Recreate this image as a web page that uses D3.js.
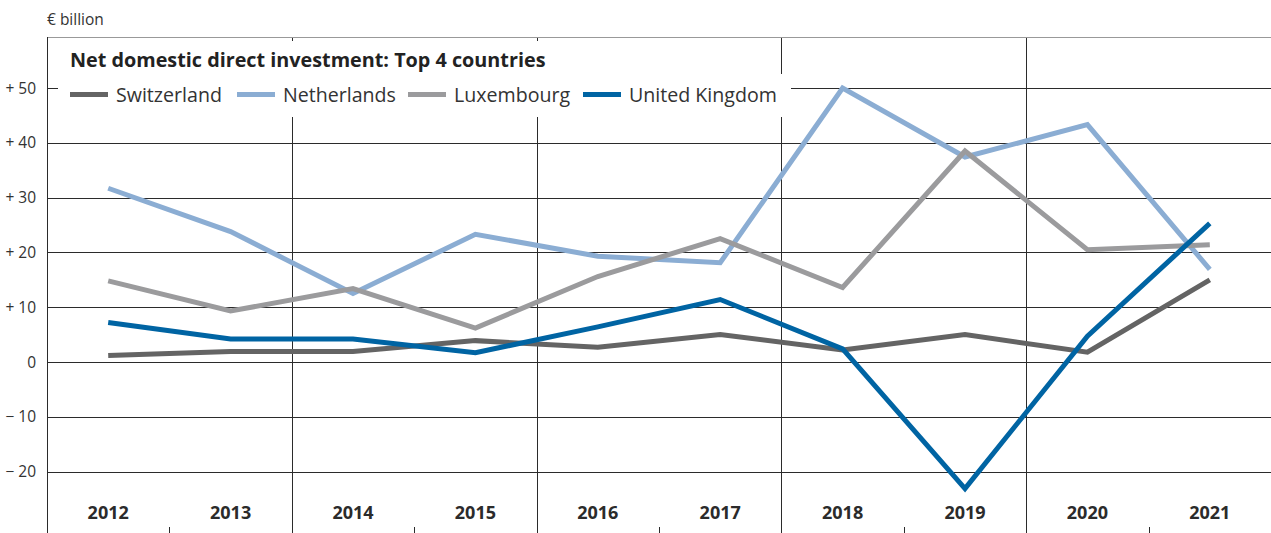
<!DOCTYPE html>
<html>
<head>
<meta charset="utf-8">
<script src="https://cdn.jsdelivr.net/npm/d3@7"></script>
<style>
  body { margin: 0; background: #fff; }
  svg { display: block; font-family: "Open Sans", sans-serif; }
</style>
</head>
<body>
<div id="chart"></div>
<script>
// values in € billion
var years = ["2012", "2013", "2014", "2015", "2016", "2017", "2018", "2019", "2020", "2021"];
var switzerland = [1.2, 1.9, 1.9, 3.9, 2.7, 5.0, 2.2, 5.0, 1.8, 15.0];
var netherlands = [31.7, 23.8, 12.5, 23.3, 19.3, 18.1, 50.0, 37.4, 43.3, 16.9];
var luxembourg = [14.8, 9.3, 13.4, 6.2, 15.6, 22.5, 13.6, 38.5, 20.5, 21.4];
var united_kingdom = [7.2, 4.2, 4.2, 1.7, 6.4, 11.4, 2.4, -23.1, 4.7, 25.3];
var y_ticks = [50, 40, 30, 20, 10, 0, -10, -20];

var series = [
    {name: "Switzerland", values: switzerland, color: "#646464"},
    {name: "Netherlands", values: netherlands, color: "#8badd3"},
    {name: "Luxembourg", values: luxembourg, color: "#9b9b9d"},
    {name: "United Kingdom", values: united_kingdom, color: "#0064a3"}
];

var svg_width = 1271;
var svg_height = 533;
var margin = {top: 37, bottom: 0, left: 47, right: 0};

var svg = d3.select("#chart")
    .append("svg")
    .attr("width", svg_width)
    .attr("height", svg_height);

var x_scale = d3.scaleBand()
    .domain(years)
    .range([margin.left, svg_width - margin.right]);

var y_scale = d3.scaleLinear()
    .domain([-31.2, 59.3])
    .range([svg_height - margin.bottom, margin.top]);

// unit label
svg.append("text")
    .attr("x", 47)
    .attr("y", 25)
    .attr("font-size", "15.5px")
    .attr("fill", "#333")
    .text("€ billion");

// horizontal grid
svg.append("g")
    .selectAll("line")
    .data(y_ticks)
    .enter()
    .append("line")
    .attr("x1", margin.left)
    .attr("x2", svg_width)
    .attr("y1", d => Math.round(y_scale(d)) + 0.5)
    .attr("y2", d => Math.round(y_scale(d)) + 0.5)
    .attr("stroke", "#2b2b2b")
    .attr("stroke-width", 1);

// vertical grid every second year, small ticks in between
var edges = years.slice(1);
svg.append("g")
    .selectAll("line")
    .data(edges)
    .enter()
    .append("line")
    .attr("x1", d => Math.round(x_scale(d)) + 0.5)
    .attr("x2", d => Math.round(x_scale(d)) + 0.5)
    .attr("y1", (d, i) => i % 2 == 1 ? margin.top : svg_height - 6)
    .attr("y2", svg_height)
    .attr("stroke", "#2b2b2b")
    .attr("stroke-width", 1);

// frame: top and left
svg.append("line")
    .attr("x1", margin.left).attr("x2", svg_width)
    .attr("y1", margin.top + 0.5).attr("y2", margin.top + 0.5)
    .attr("stroke", "#999").attr("stroke-width", 1);
svg.append("line")
    .attr("x1", margin.left + 0.5).attr("x2", margin.left + 0.5)
    .attr("y1", margin.top).attr("y2", svg_height)
    .attr("stroke", "#2b2b2b").attr("stroke-width", 1);

// y labels
var fmt = function(d){
    if (d > 0) return "+ " + d;
    if (d < 0) return "\u2212 " + Math.abs(d);
    return "0";
}
svg.append("g")
    .selectAll("text")
    .data(y_ticks)
    .enter()
    .append("text")
    .attr("x", 36)
    .attr("y", d => y_scale(d))
    .attr("dy", "0.36em")
    .attr("text-anchor", "end")
    .attr("font-size", "15.5px")
    .attr("fill", "#333")
    .text(fmt);

// x labels
svg.append("g")
    .selectAll("text")
    .data(years)
    .enter()
    .append("text")
    .attr("x", d => x_scale(d) + x_scale.bandwidth() / 2)
    .attr("y", 519)
    .attr("text-anchor", "middle")
    .attr("font-size", "18px")
    .attr("font-weight", "bold")
    .attr("fill", "#2b2b2b")
    .text(d => d);

// legend background
svg.append("rect")
    .attr("x", 58).attr("y", 41)
    .attr("width", 492).attr("height", 34)
    .attr("fill", "#fff");
svg.append("rect")
    .attr("x", 58).attr("y", 74)
    .attr("width", 733).attr("height", 43)
    .attr("fill", "#fff");

// lines
var line = d3.line()
    .x((d, i) => x_scale(years[i]) + x_scale.bandwidth() / 2)
    .y(d => y_scale(d));

svg.append("g")
    .selectAll("path")
    .data(series)
    .enter()
    .append("path")
    .attr("d", d => line(d.values))
    .attr("fill", "none")
    .attr("stroke", d => d.color)
    .attr("stroke-width", 5)
    .attr("stroke-linejoin", "miter");

// title and legend
svg.append("text")
    .attr("x", 70)
    .attr("y", 67)
    .attr("font-size", "19.8px")
    .attr("font-weight", "bold")
    .attr("fill", "#222")
    .text("Net domestic direct investment: Top 4 countries");

var legend_x = [70, 237, 408, 583];
var legend = svg.append("g")
    .selectAll("g")
    .data(series)
    .enter()
    .append("g")
    .attr("transform", (d, i) => `translate(${legend_x[i]}, 0)`);
legend.append("rect")
    .attr("x", 0).attr("y", 92)
    .attr("width", 38).attr("height", 5)
    .attr("fill", d => d.color);
legend.append("text")
    .attr("x", 46)
    .attr("y", 102)
    .attr("font-size", "19.6px")
    .attr("fill", "#333")
    .text(d => d.name);
</script>
</body>
</html>
